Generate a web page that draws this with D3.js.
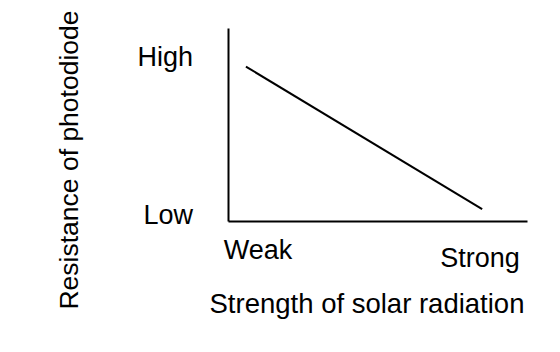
<!DOCTYPE html>
<html><head><meta charset="utf-8">
<script src="https://cdn.jsdelivr.net/npm/d3@7"></script>
<style>body{margin:0;background:#fff}</style>
</head><body>
<svg id="c" width="560" height="352"></svg>
<script>
// Data
const yTickValues = [8.53, 0.3];
const yTickLabels = ["High", "Low"];
const xTickValues = [0.99, 8.41];
const xTickLabels = ["Weak", "Strong"];
const lineX = [0.6, 8.5];
const lineY = [8.0, 0.62];
const xTitle = "Strength of solar radiation";
const yTitle = "Resistance of photodiode";

const svg = d3.select("#c");
const font = "'Liberation Sans', Arial, Helvetica, sans-serif";
const x = d3.scaleLinear().domain([0, 10]).range([228, 527]);
const y = d3.scaleLinear().domain([0, 10]).range([221, 28]);

const yAxis = svg.append("g").attr("transform", `translate(${x(0)},0)`)
  .call(d3.axisLeft(y).tickValues(yTickValues).tickFormat((d,i)=>yTickLabels[i]).tickSize(0).tickPadding(35).tickSizeOuter(0));
const xAxis = svg.append("g").attr("transform", `translate(0,${y(0)})`)
  .call(d3.axisBottom(x).tickValues(xTickValues).tickFormat((d,i)=>xTickLabels[i]).tickSize(0).tickPadding(19).tickSizeOuter(0));
[yAxis, xAxis].forEach(g => {
  g.select(".domain").attr("stroke", "#000").attr("stroke-width", 2);
  g.selectAll("text").attr("font-family", font).attr("font-size", 27).attr("fill", "#000");
});
xAxis.selectAll(".tick text").attr("dy", (d,i)=> i===0 ? "0.71em" : "1.0em");

svg.append("path")
  .datum(lineX.map((d,i)=>[d, lineY[i]]))
  .attr("fill", "none").attr("stroke", "#000").attr("stroke-width", 2)
  .attr("d", d3.line().x(d=>x(d[0])).y(d=>y(d[1])));

svg.append("text").attr("x", 367).attr("y", 313).attr("text-anchor", "middle")
  .attr("font-family", font).attr("font-size", 27.5).text(xTitle);
svg.append("text").attr("transform", "translate(78,160) rotate(-90)").attr("text-anchor", "middle")
  .attr("font-family", font).attr("font-size", 26.5).text(yTitle);
</script>
</body></html>
